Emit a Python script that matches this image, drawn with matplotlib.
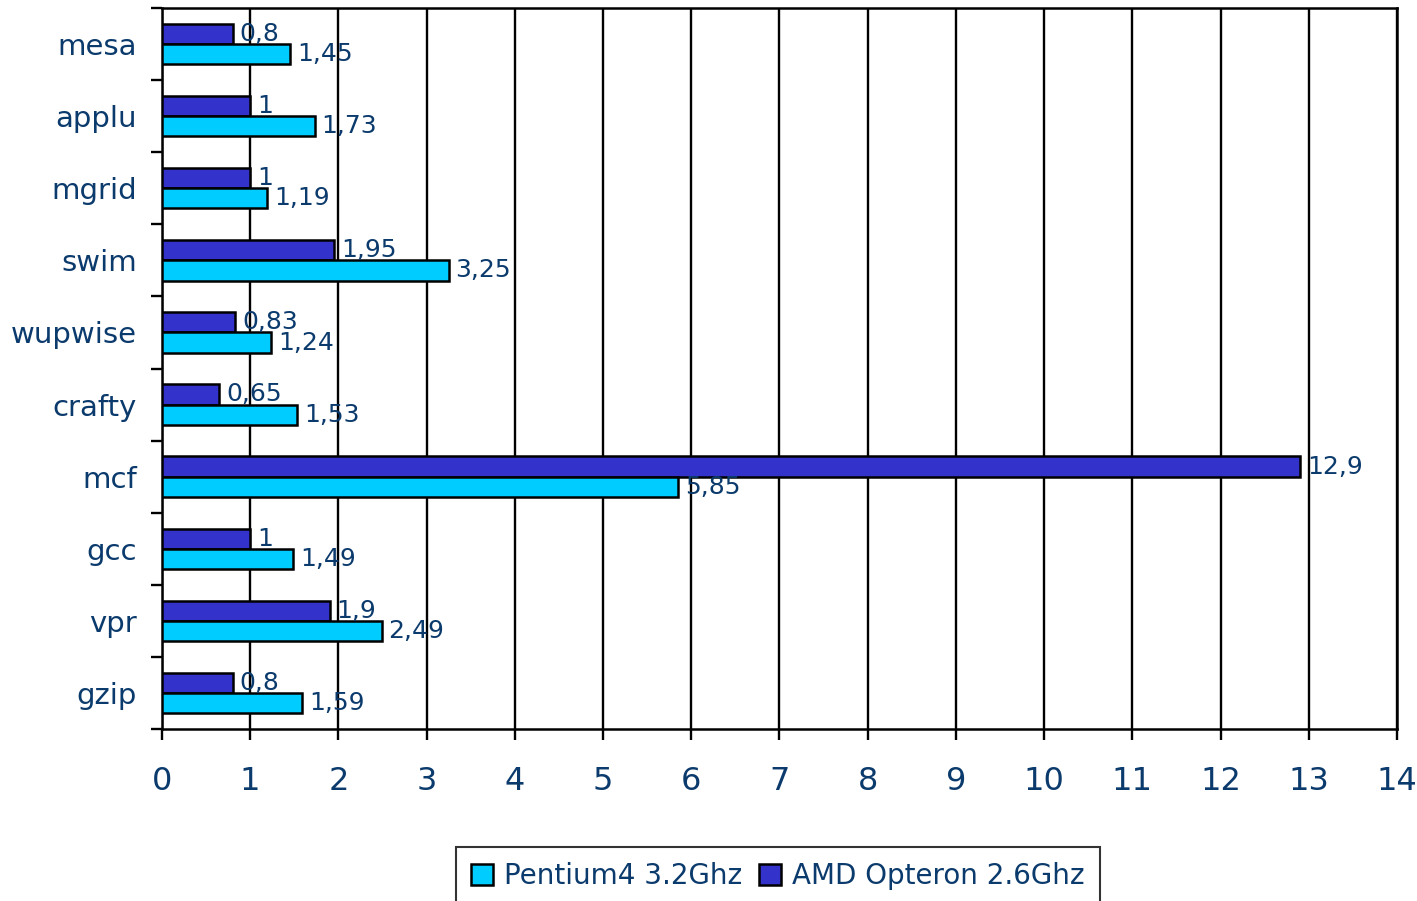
import matplotlib.pyplot as plt
import numpy as np
from matplotlib.ticker import FixedLocator

# SPEC CPU benchmarks, top to bottom
benchmarks = ["mesa", "applu", "mgrid", "swim", "wupwise", "crafty", "mcf", "gcc", "vpr", "gzip"]
pentium4 = [1.45, 1.73, 1.19, 3.25, 1.24, 1.53, 5.85, 1.49, 2.49, 1.59]
opteron = [0.8, 1, 1, 1.95, 0.83, 0.65, 12.9, 1, 1.9, 0.8]
x_ticks = list(range(0, 15))

text_color = "#0b3a6c"
p4_color = "#00ccff"
amd_color = "#3333cc"

plt.rcParams["font.family"] = ["DejaVu Sans"]

fig = plt.figure(figsize=(14.17, 9.01), dpi=100)
ax = fig.add_axes([0.1143, 0.1909, 0.8716, 0.8002])

y = np.arange(len(benchmarks))
h = 0.28
amd_bars = ax.barh(y - h / 2, opteron, height=h, color=amd_color,
                   edgecolor="black", linewidth=1.8, zorder=3, label="AMD Opteron 2.6Ghz")
p4_bars = ax.barh(y + h / 2, pentium4, height=h, color=p4_color,
                  edgecolor="black", linewidth=1.8, zorder=3, label="Pentium4 3.2Ghz")

# value labels with decimal comma
for bars, vals in [(amd_bars, opteron), (p4_bars, pentium4)]:
    for b, v in zip(bars, vals):
        ax.annotate("{:g}".format(v).replace(".", ","),
                    xy=(v, b.get_y() + b.get_height() / 2),
                    xytext=(5, 0), textcoords="offset points",
                    va="center", ha="left", fontsize=18, color=text_color, zorder=4)

ax.set_xlim(0, 14)
ax.set_ylim(len(benchmarks) - 0.5, -0.5)
ax.set_xticks(x_ticks)
ax.set_xticklabels([str(t) for t in x_ticks])
ax.set_yticks(y)
ax.set_yticklabels(benchmarks)
ax.yaxis.set_minor_locator(FixedLocator(np.arange(-0.5, len(benchmarks), 1)))

ax.grid(axis="x", color="black", linewidth=1.7, zorder=1)
for s in ax.spines.values():
    s.set_color("black")
    s.set_linewidth(1.8)

ax.tick_params(axis="x", length=8, width=1.7, pad=19, labelsize=23, labelcolor=text_color)
ax.tick_params(axis="y", which="major", length=0, pad=18, labelsize=21, labelcolor=text_color)
ax.tick_params(axis="y", which="minor", length=8, width=1.7)

handles = [p4_bars, amd_bars]
leg = fig.legend(handles, [hd.get_label() for hd in handles], loc="lower center",
                 bbox_to_anchor=(0.549, -0.02), ncol=2, fontsize=20, frameon=True,
                 fancybox=False, edgecolor="black", handlelength=0.8, handleheight=0.8,
                 handletextpad=0.4, columnspacing=0.6, borderpad=0.55)
leg.get_frame().set_linewidth(1.5)
for t in leg.get_texts():
    t.set_color(text_color)

fig.savefig("out.png", dpi=100)
